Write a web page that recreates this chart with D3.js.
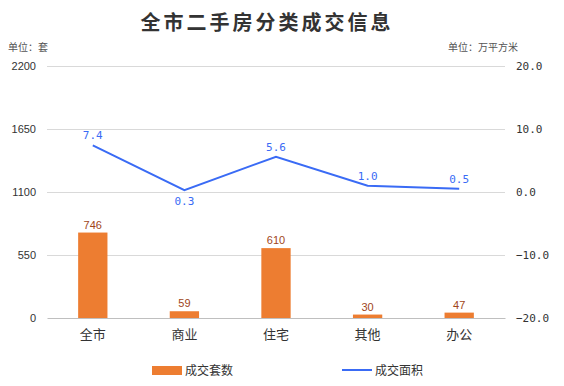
<!DOCTYPE html>
<html>
<head>
<meta charset="utf-8">
<script src="https://cdn.jsdelivr.net/npm/d3@7"></script>
<style>
  body { margin: 0; background: #fff; }
  text { font-family: "Noto Sans CJK SC", "DejaVu Sans", sans-serif; }
</style>
</head>
<body>
<svg width="564" height="386"></svg>
<script>
const categories = ["全市", "商业", "住宅", "其他", "办公"];
const counts = [746, 59, 610, 30, 47];
const areas = [7.4, 0.3, 5.6, 1.0, 0.5];
const leftTicks = [0, 550, 1100, 1650, 2200];
const rightTicks = [-20, -10, 0, 10, 20];

const svg = d3.select("svg");
const width = 564;
const height = 386;
const margin = { top: 66, right: 59, bottom: 68, left: 47 };

const barColor = "#ED7D31";
const lineColor = "#3A6BF5";

const xScale = d3.scaleBand()
    .domain(categories)
    .range([margin.left, width - margin.right])
    .paddingInner(0.68)
    .paddingOuter(0.34);

const yLeft = d3.scaleLinear()
    .domain([0, 2200])
    .range([height - margin.bottom, margin.top]);

const yRight = d3.scaleLinear()
    .domain([-20, 20])
    .range([height - margin.bottom, margin.top]);

// title
svg.append("text")
    .attr("x", 267)
    .attr("y", 30)
    .attr("text-anchor", "middle")
    .style("font-size", "20px")
    .style("font-weight", "bold")
    .style("letter-spacing", "3px")
    .attr("fill", "#333")
    .text("全市二手房分类成交信息");

svg.append("text")
    .attr("x", 8)
    .attr("y", 51)
    .style("font-size", "10px")
    .attr("fill", "#555")
    .text("单位：套");

svg.append("text")
    .attr("x", 518)
    .attr("y", 51)
    .attr("text-anchor", "end")
    .style("font-size", "10px")
    .attr("fill", "#555")
    .text("单位：万平方米");

// grid lines
svg.append("g")
    .selectAll("line")
    .data(leftTicks.slice(1))
    .enter()
    .append("line")
    .attr("x1", margin.left)
    .attr("x2", width - margin.right)
    .attr("y1", d => yLeft(d) + 0.5)
    .attr("y2", d => yLeft(d) + 0.5)
    .attr("stroke", "#d9d9d9");

// left axis
const leftAxis = svg.append("g")
    .attr("transform", `translate(${margin.left},0)`)
    .call(d3.axisLeft(yLeft).tickValues(leftTicks).tickSize(0).tickPadding(11)
        .tickFormat(d3.format("d")));
leftAxis.select(".domain").remove();
leftAxis.selectAll("text").style("font-size", "11px").attr("fill", "#333")
    .style("font-family", "'Liberation Sans', sans-serif");

// right axis
const rightAxis = svg.append("g")
    .attr("transform", `translate(${width - margin.right},0)`)
    .call(d3.axisRight(yRight).tickValues(rightTicks).tickSize(0).tickPadding(11)
        .tickFormat(d => d.toFixed(1).replace("-", "−")));
rightAxis.select(".domain").remove();
rightAxis.selectAll("text").style("font-size", "11px").attr("fill", "#333")
    .style("font-family", "'DejaVu Sans Mono', monospace");

// bars
svg.selectAll(".bar")
    .data(counts)
    .enter()
    .append("rect")
    .attr("class", "bar")
    .attr("x", (d, i) => xScale(categories[i]))
    .attr("y", d => yLeft(d))
    .attr("width", xScale.bandwidth())
    .attr("height", d => yLeft(0) - yLeft(d))
    .attr("fill", barColor);

svg.selectAll(".barLabel")
    .data(counts)
    .enter()
    .append("text")
    .attr("class", "barLabel")
    .attr("x", (d, i) => xScale(categories[i]) + xScale.bandwidth() / 2)
    .attr("y", d => yLeft(d) - 4)
    .attr("text-anchor", "middle")
    .style("font-size", "11px")
    .style("font-family", "'Liberation Sans', sans-serif")
    .attr("fill", "#A0451A")
    .text(d => d);

// x axis
const xAxis = svg.append("g")
    .attr("transform", `translate(0,${yLeft(0)})`)
    .call(d3.axisBottom(xScale).tickSize(0).tickPadding(12));
xAxis.select(".domain").attr("stroke", "#bfbfbf");
xAxis.selectAll("text").style("font-size", "13px").attr("fill", "#333");

// line
const cx = i => xScale(categories[i]) + xScale.bandwidth() / 2;
const line = d3.line()
    .x((d, i) => cx(i))
    .y(d => yRight(d));

svg.append("path")
    .datum(areas)
    .attr("d", line)
    .attr("fill", "none")
    .attr("stroke", lineColor)
    .attr("stroke-width", 2);

svg.selectAll(".lineLabel")
    .data(areas)
    .enter()
    .append("text")
    .attr("class", "lineLabel")
    .attr("x", (d, i) => cx(i))
    .attr("y", (d, i) => i === 1 ? yRight(d) + 15 : yRight(d) - 6)
    .attr("text-anchor", "middle")
    .style("font-size", "11px")
    .style("font-family", "'DejaVu Sans Mono', monospace")
    .attr("fill", lineColor)
    .text(d => d.toFixed(1));

// legend
const legend = svg.append("g");
legend.append("rect")
    .attr("x", 152)
    .attr("y", 366)
    .attr("width", 30)
    .attr("height", 9)
    .attr("fill", barColor);
legend.append("text")
    .attr("x", 185)
    .attr("y", 375)
    .style("font-size", "12px")
    .attr("fill", "#333")
    .text("成交套数");
legend.append("line")
    .attr("x1", 342)
    .attr("x2", 372)
    .attr("y1", 370)
    .attr("y2", 370)
    .attr("stroke", lineColor)
    .attr("stroke-width", 2);
legend.append("text")
    .attr("x", 375)
    .attr("y", 375)
    .style("font-size", "12px")
    .attr("fill", "#333")
    .text("成交面积");
</script>
</body>
</html>
